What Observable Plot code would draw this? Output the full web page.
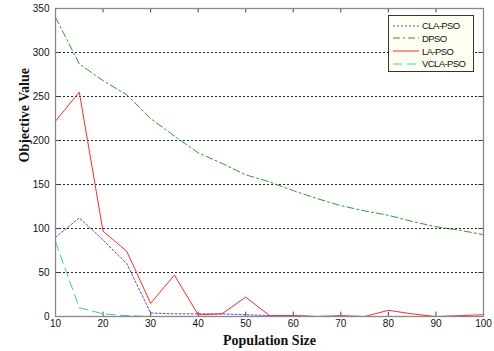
<!DOCTYPE html>
<html><head><meta charset="utf-8">
<script src="https://cdn.jsdelivr.net/npm/d3@7"></script>
<script src="https://cdn.jsdelivr.net/npm/@observablehq/plot@0.6"></script>
<style>
body{margin:0;background:#fff;}
#wrap{position:relative;width:494px;height:351px;}
#legend{position:absolute;left:388px;top:15px;width:86px;height:57px;background:#fffff2;border:1px solid #333;box-sizing:border-box;font:9.5px "Liberation Sans",Arial,sans-serif;letter-spacing:-0.6px;color:#111;}
#legend .row{position:absolute;left:4px;height:13px;display:flex;align-items:center;white-space:nowrap;}
#legend svg{margin-right:3px;flex:none;}
</style>
</head><body>
<div id="wrap"></div>
<script>
const popSize = [10,15,20,25,30,35,40,45,50,55,60,65,70,75,80,85,90,95,100];
const claPso  = [90,112,87,60,4,3,3,3,2,1,1,0,0,0,0,0,0,0,0];
const dpso    = [340,287,268,252,225,205,186,174,161,153,143,134,126,120,115,108,102,98,93];
const laPso   = [222,255,97,74,15,47,2,3,22,1,1,0,1,0,7,3,0,1,2];
const vclaPso = [85,10,3,1,0,0,0,0,0,0,0,0,0,0,0,0,0,0,0];
const seriesNames = ["CLA-PSO","DPSO","LA-PSO","VCLA-PSO"];
const seriesValues = [claPso, dpso, laPso, vclaPso];
const seriesColors = ["#4a4aff","#2f9a2f","#ff2a2a","#3cc8c8"];
const seriesDash = ["2,2","7,3,2,3",null,"9,5"];
const xTicks = [10,20,30,40,50,60,70,80,90,100];
const yTicks = [0,50,100,150,200,250,300,350];
const gridVals = [50,100,150,200,250,300];

const data = [];
seriesNames.forEach((s,i)=>popSize.forEach((x,j)=>data.push({series:s,x,y:seriesValues[i][j]})));

const marks = [
  Plot.ruleY(gridVals,{stroke:"#222",strokeDasharray:"2,2",strokeWidth:1}),
  Plot.ruleX(xTicks,{y1:0,y2:5,stroke:"#444"}),
  Plot.ruleX(xTicks,{y1:345,y2:350,stroke:"#444"}),
  Plot.ruleY(yTicks,{x1:10,x2:11,stroke:"#444"}),
  Plot.ruleY(yTicks,{x1:99,x2:100,stroke:"#444"}),
];
[1,0,2,3].forEach(i=>{
  marks.push(Plot.line(data.filter(d=>d.series===seriesNames[i]),{x:"x",y:"y",stroke:seriesColors[i],strokeWidth:1,strokeDasharray:seriesDash[i]}));
});
marks.push(Plot.frame({stroke:"#888",strokeWidth:1.3}));
marks.push(Plot.axisX(xTicks,{tickSize:0,tickPadding:3,fontSize:10,label:null}));
marks.push(Plot.axisY(yTicks,{tickSize:0,tickPadding:6,fontSize:10,label:null}));
marks.push(Plot.text(["Population Size"],{frameAnchor:"bottom",dy:28,fontSize:14,fontWeight:"bold",fontFamily:"Liberation Serif, Times New Roman, serif"}));
marks.push(Plot.text(["Objective Value"],{frameAnchor:"left",dx:-31,rotate:-90,fontSize:14,fontWeight:"bold",fontFamily:"Liberation Serif, Times New Roman, serif"}));

const chart = Plot.plot({
  width:494,height:351,
  marginLeft:55,marginRight:11,marginTop:8,marginBottom:35,
  style:{fontFamily:"Liberation Sans, Arial, sans-serif",background:"#fff",color:"#111"},
  x:{domain:[10,100]},
  y:{domain:[0,350]},
  marks
});
const wrap = document.getElementById("wrap");
wrap.appendChild(chart);

const leg = document.createElement("div");
leg.id="legend";
seriesNames.forEach((s,i)=>{
  const row=document.createElement("div");
  row.className="row";
  row.style.top=(3+i*12.8)+"px";
  row.innerHTML=`<svg width="26" height="6"><line x1="0" y1="3" x2="26" y2="3" stroke="${seriesColors[i]}" stroke-width="1" ${seriesDash[i]?`stroke-dasharray="${seriesDash[i]}"`:""}/></svg><span>${s}</span>`;
  leg.appendChild(row);
});
wrap.appendChild(leg);
</script>
</body></html>
